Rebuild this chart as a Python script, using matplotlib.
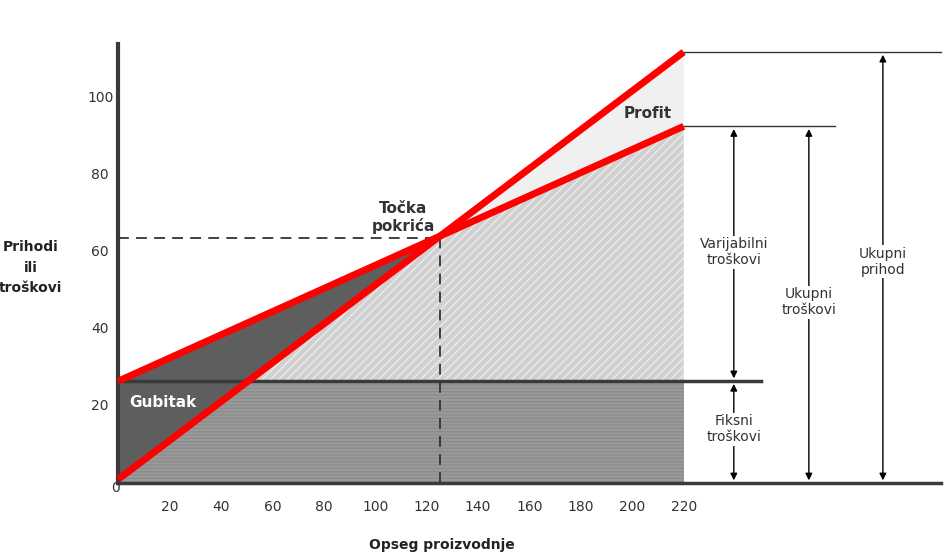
import numpy as np
import matplotlib.pyplot as plt

# data
x = np.array([0, 220])
fixed = 26.5
revenue = np.array([1.0, 112.0])
cost = np.array([26.5, 92.7])
be_x, be_y = 125, 63.6
xticks = [20, 40, 60, 80, 100, 120, 140, 160, 180, 200, 220]
yticks = [20, 40, 60, 80, 100]

fig = plt.figure(figsize=(9.51, 5.59), dpi=100)
ax = fig.add_axes([0, 0, 1, 1])
ax.set_xlim(-46, 324)
ax.set_ylim(-19.7, 125.5)
ax.set_axis_off()

xs = np.linspace(0, 220, 400)
rev = np.interp(xs, x, revenue)
cst = np.interp(xs, x, cost)

# fixed cost band
ax.fill_between(xs, 0, fixed, color='#9a9a9a', lw=0, hatch='-----', edgecolor='#8c8c8c')
# loss area
ax.fill_between(xs, rev, cst, where=cst >= rev, color='#5e5e5e', lw=0)
# variable cost area
top = np.minimum(rev, cst)
ax.fill_between(xs, fixed, top, where=top >= fixed, facecolor='#d0d0d0',
                hatch='////', edgecolor='#ececec', lw=0)
# profit area
ax.fill_between(xs, cst, rev, where=rev >= cst, color='#f0f0f0', lw=0)

# axes
ax.plot([0, 0], [0, 114], color='#3a3a3a', lw=3)
ax.plot([0, 320], [0, 0], color='#3a3a3a', lw=2.5)
ax.plot([0, 250], [fixed, fixed], color='#3a3a3a', lw=2.5)

# break-even guides
ax.plot([0, be_x], [be_y, be_y], color='#333333', lw=1.3, ls=(0, (6, 4)))
ax.plot([be_x, be_x], [0, be_y], color='#333333', lw=1.3, ls=(0, (6, 4)))

# revenue and cost lines
ax.plot(x, revenue, color='red', lw=5, solid_capstyle='butt')
ax.plot([0, 220], cost, color='red', lw=5, solid_capstyle='butt')

# right side reference lines
ax.plot([220, 279], [cost[1], cost[1]], color='#333333', lw=1)
ax.plot([220, 320], [revenue[1], revenue[1]], color='#333333', lw=1)

def arrow(xp, y0, y1):
    ax.annotate('', xy=(xp, y1), xytext=(xp, y0),
                arrowprops=dict(arrowstyle='<|-|>', color='black', lw=1, mutation_scale=10))

arrow(239.5, 0, fixed)
arrow(239.5, fixed, cost[1])
arrow(268.7, 0, cost[1])
arrow(297.5, 0, revenue[1])

box = dict(facecolor='white', edgecolor='none', pad=1)
ax.text(239.5, 60, 'Varijabilni\ntroškovi', ha='center', va='center', fontsize=10, color='#333333', bbox=box)
ax.text(239.5, 14, 'Fiksni\ntroškovi', ha='center', va='center', fontsize=10, color='#333333', bbox=box)
ax.text(268.7, 47, 'Ukupni\ntroškovi', ha='center', va='center', fontsize=10, color='#333333', bbox=box)
ax.text(297.5, 57.5, 'Ukupni\nprihod', ha='center', va='center', fontsize=10, color='#333333', bbox=box)

ax.text(111, 69, 'Točka\npokrića', ha='center', va='center', fontsize=11, fontweight='bold', color='#333333')
ax.text(206, 96, 'Profit', ha='center', va='center', fontsize=11, fontweight='bold', color='#333333')
ax.text(17.5, 21, 'Gubitak', ha='center', va='center', fontsize=11, fontweight='bold', color='white')

for t in xticks:
    ax.text(t, -6.2, str(t), ha='center', va='center', fontsize=10, color='#333333')
for t in yticks:
    ax.text(-7, t, str(t), ha='center', va='center', fontsize=10, color='#333333')
ax.text(-1, -1.3, '0', ha='center', va='center', fontsize=10, color='#333333')

ax.text(-34, 56, 'Prihodi\nili\ntroškovi', ha='center', va='center', fontsize=10,
        fontweight='bold', color='#222222', linespacing=1.6)
ax.text(126, -16, 'Opseg proizvodnje', ha='center', va='center', fontsize=10,
        fontweight='bold', color='#222222')

fig.savefig('out.png', dpi=100)
